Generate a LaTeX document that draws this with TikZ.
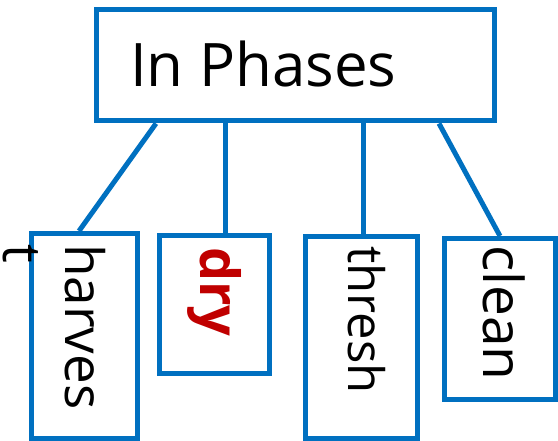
\documentclass[tikz,border=0pt]{standalone}
\usepackage{fontspec}
\setmainfont{Open Sans}
\usetikzlibrary{calc}
\definecolor{boxblue}{HTML}{0070C0}
\definecolor{darkred}{HTML}{C00000}
\tikzset{
  phasebox/.style={draw=boxblue, line width=5pt, fill=white, inner sep=0pt},
  link/.style={draw=boxblue, line width=5pt},
  vlabel/.style={rotate=-90, anchor=base west, inner sep=0pt, text=black},
}
\newcommand{\fsz}[1]{\fontsize{#1pt}{#1pt}\selectfont}
\begin{document}
\begin{tikzpicture}[x=1pt, y=-1pt]
  \useasboundingbox (0,0) rectangle (558,441);

  % parent box
  \node[phasebox, minimum width=398pt, minimum height=111pt] (top) at (295,65.5) {};
  \node[anchor=base west, inner sep=0pt] (title) at (130,87) {\fsz{60}In Phases};

  % child boxes
  \node[phasebox, minimum width=106pt, minimum height=205.5pt] (harv) at (84,336.25) {};
  \node[phasebox, minimum width=109.5pt, minimum height=138pt] (dry) at (214.25,305) {};
  \node[phasebox, minimum width=112pt, minimum height=202.5pt] (thresh) at (361.5,337.75) {};
  \node[phasebox, minimum width=111pt, minimum height=161pt] (clean) at (500,319) {};

  % connectors
  \draw[link] ([xshift=-139pt]top.south) -- ([xshift=-5pt]harv.north);
  \draw[link] ([xshift=-70pt]top.south) -- ([xshift=10.75pt]dry.north);
  \draw[link] ([xshift=68.5pt]top.south) -- ([xshift=2pt]thresh.north);
  \draw[link] ([xshift=144pt]top.south) -- (clean.north);

  % vertical labels (the last letter of "harvest" wraps onto a second line)
  \node[vlabel] (lharv) at (65,244) {\fsz{53}harves};
  \node[vlabel] (lharvt) at (3,244) {\fsz{53}t};
  \node[vlabel, text=darkred] (ldry) at (200,247) {\fsz{54}\bfseries dry};
  \node[vlabel] (lthresh) at (348,246) {\fsz{49}thresh};
  \node[vlabel] (lclean) at (483,245) {\fsz{55}clean};
\end{tikzpicture}
\end{document}
